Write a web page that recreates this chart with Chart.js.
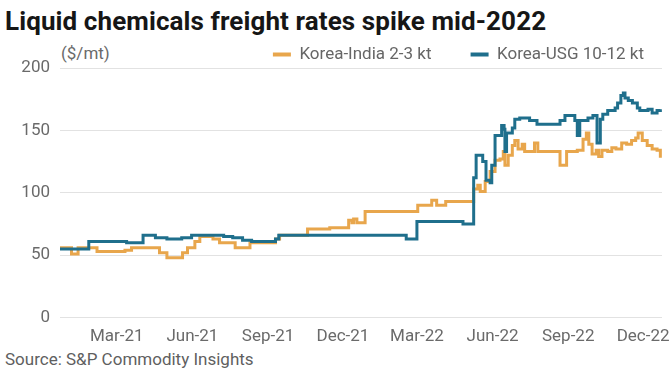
<!DOCTYPE html>
<html>
<head>
<meta charset="utf-8">
<script src="https://cdn.jsdelivr.net/npm/chart.js@4/dist/chart.umd.min.js"></script>
<style>
  html, body { margin: 0; padding: 0; background: #fff; }
  #wrap { position: relative; width: 670px; height: 380px; overflow: hidden; font-family: Roboto, "Liberation Sans", sans-serif; }
  #title { position: absolute; left: 5px; top: 6px; font-size: 26px; font-weight: 700; color: #161616; white-space: nowrap; letter-spacing: 0.1px; }
  #unit { position: absolute; left: 61px; top: 43px; font-size: 17px; color: #6a6a6a; }
  #source { position: absolute; left: 5px; top: 349px; font-size: 17px; color: #5f5f5f; }
  canvas { position: absolute; left: 0; top: 0; }
</style>
</head>
<body>
<div id="wrap">
  <div id="title">Liquid chemicals freight rates spike mid-2022</div>
  <div id="unit">($/mt)</div>
  <div id="source">Source: S&amp;P Commodity Insights</div>
  <canvas id="c" width="670" height="380"></canvas>
</div>
<script>
// x values are days since 2021-01-01; each point starts a new (stepped) rate level
const seriesNames = ['Korea-India 2-3 kt', 'Korea-USG 10-12 kt'];

const indiaDays = [-10, 4, 12, 35, 69, 77, 111, 120, 139, 145, 154, 160, 176, 184, 203, 221, 252, 257, 291, 318,
  341, 345, 347, 351, 361, 425, 442, 448, 459, 493, 498, 501, 507, 513, 519, 525, 529, 531, 535, 540,
  543, 547, 552, 555, 567, 571, 598, 606, 619, 626, 630, 633, 637, 642, 645, 649, 656, 661, 666, 673,
  679, 685, 690, 693, 698, 704, 710, 716, 720];
const indiaRates = [56, 51, 56, 53, 54, 56, 52, 48, 52, 56, 61, 65, 63, 60, 56, 60, 63, 66, 71, 72,
  78, 76, 79, 76, 85, 90, 94, 90, 93, 103, 106, 101, 109, 117, 126, 127, 133, 122, 130, 138,
  142, 135, 139, 133, 140, 133, 122, 133, 134, 143, 148, 139, 131, 134, 129, 134, 133, 136, 135, 140,
  139, 142, 144, 148, 142, 138, 135, 134, 128];

const usgDays = [-10, 25, 71, 91, 106, 120, 138, 150, 189, 200, 212, 223, 252, 256, 411, 424, 480, 493, 496, 504,
  508, 513, 515, 519, 527, 530, 531, 533, 540, 543, 549, 561, 570, 598, 604, 616, 619, 622, 632, 638,
  643, 647, 650, 656, 665, 668, 672, 675, 677, 681, 686, 692, 695, 705, 710, 716, 720];
const usgRates = [55, 61, 60, 66, 64, 63, 64, 66, 65, 64, 62, 61, 63, 66, 63, 77, 75, 112, 130, 125,
  110, 108, 122, 146, 154, 151, 133, 148, 152, 159, 160, 158, 155, 158, 162, 158, 146, 158, 160, 162,
  140, 159, 163, 166, 168, 172, 178, 180, 176, 174, 172, 168, 166, 167, 164, 166, 167];

const tickDays = [59, 151, 243, 334, 424, 516, 608, 699];
const tickLabels = ['Mar-21', 'Jun-21', 'Sep-21', 'Dec-21', 'Mar-22', 'Jun-22', 'Sep-22', 'Dec-22'];
const yTicks = [0, 50, 100, 150, 200];

const ORANGE = '#E8A64C';
const BLUE = '#1F6F8C';
const FONT = 'Roboto, "Liberation Sans", sans-serif';

function pts(xs, ys) { return xs.map((x, i) => ({ x: x, y: ys[i] })); }

new Chart(document.getElementById('c'), {
  type: 'line',
  data: {
    datasets: [
      { label: seriesNames[1], data: pts(usgDays, usgRates), borderColor: BLUE, backgroundColor: BLUE,
        borderWidth: 3, pointRadius: 0, stepped: true, fill: false },
      { label: seriesNames[0], data: pts(indiaDays, indiaRates), borderColor: ORANGE, backgroundColor: ORANGE,
        borderWidth: 3, pointRadius: 0, stepped: true, fill: false }
    ]
  },
  options: {
    responsive: false,
    animation: false,
    devicePixelRatio: 1,
    layout: { padding: { top: 28, right: 8, bottom: 24, left: 0 } },
    plugins: {
      tooltip: { enabled: false },
      title: { display: false },
      legend: {
        display: true,
        position: 'top',
        align: 'end',
        reverse: true,
        maxHeight: 40,
        labels: {
          boxWidth: 18,
          boxHeight: 4,
          padding: 18,
          color: '#666',
          font: { family: FONT, size: 17 },
          generateLabels: function (chart) {
            const items = Chart.defaults.plugins.legend.labels.generateLabels(chart);
            items.forEach(it => { it.lineWidth = 0; if (it.text === seriesNames[0]) it.text = it.text + '     '; });
            return items;
          }
        }
      }
    },
    scales: {
      x: {
        type: 'linear',
        min: -10,
        max: 722,
        grid: { display: false, drawTicks: false },
        border: { display: false },
        afterBuildTicks: function (scale) { scale.ticks = tickDays.map(v => ({ value: v })); },
        afterFit: function (scale) { scale.paddingRight = 0; scale.paddingLeft = 0; },
        ticks: {
          autoSkip: false,
          maxRotation: 0,
          padding: 9,
          color: '#6a6a6a',
          font: { family: FONT, size: 17 },
          callback: function (v) { const i = tickDays.indexOf(v); return i >= 0 ? tickLabels[i] : ''; }
        }
      },
      y: {
        min: 0,
        max: 200,
        afterFit: function (scale) { scale.width = 60; },
        afterBuildTicks: function (scale) { scale.ticks = yTicks.map(v => ({ value: v })); },
        grid: { color: '#e2e2e2', lineWidth: 1, drawTicks: false },
        border: { display: false },
        ticks: {
          padding: 10,
          color: '#6a6a6a',
          font: { family: FONT, size: 17 }
        }
      }
    }
  }
});
</script>
</body>
</html>
